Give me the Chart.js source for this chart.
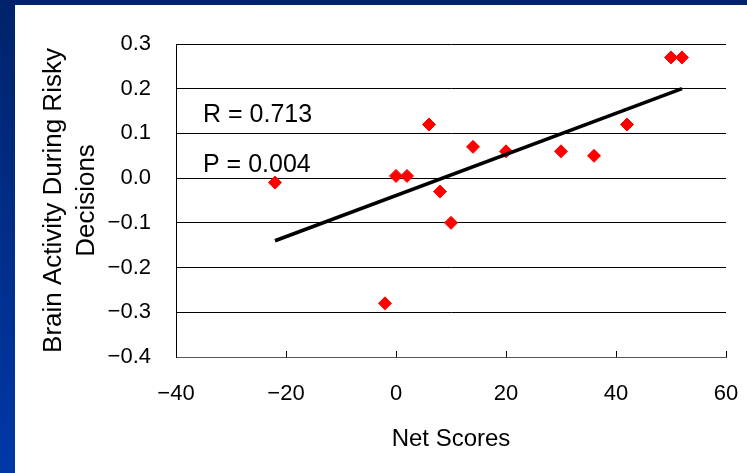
<!DOCTYPE html>
<html>
<head>
<meta charset="utf-8">
<script src="https://cdn.jsdelivr.net/npm/chart.js@4/dist/chart.umd.min.js"></script>
<style>
  html, body { margin: 0; padding: 0; }
  body {
    width: 747px; height: 473px; overflow: hidden;
    background: linear-gradient(to bottom, #00236a, #0038a8);
    position: relative;
  }
  #wrap { position: absolute; left: 15px; top: 5px; width: 732px; height: 468px; background: #fff; }
</style>
</head>
<body>
<div id="wrap"><canvas id="scatter" width="732" height="468"></canvas></div>
<script>
// values
const netScores = [-22, -2, 0, 2, 6, 8, 10, 14, 20, 30, 36, 42, 50, 52];
const brainActivity = [-0.01, -0.28, 0.005, 0.005, 0.12, -0.03, -0.10, 0.07, 0.06, 0.06, 0.05, 0.12, 0.27, 0.27];
const trendX = [-22, 52];
const trendY = [-0.14, 0.20];
const statLabels = ['R = 0.713', 'P = 0.004'];

const FONT = "'Liberation Sans', Arial, sans-serif";
const minus = s => s.replace('-', '\u2212');

// small tick marks pointing inward on the x axis + R/P text
const extras = {
  id: 'extras',
  afterDraw(chart) {
    const ctx = chart.ctx;
    const xs = chart.scales.x;
    const area = chart.chartArea;
    ctx.save();
    ctx.strokeStyle = '#000';
    ctx.lineWidth = 1;
    xs.ticks.forEach(t => {
      const px = Math.round(xs.getPixelForValue(t.value)) + 0.5;
      ctx.beginPath();
      ctx.moveTo(px, area.bottom);
      ctx.lineTo(px, area.bottom - 6);
      ctx.stroke();
    });
    ctx.fillStyle = '#000';
    ctx.font = '25px ' + FONT;
    ctx.textBaseline = 'alphabetic';
    ctx.fillText(statLabels[0], area.left + 27, area.top + 78);
    ctx.fillText(statLabels[1], area.left + 27, area.top + 128);
    ctx.restore();
  }
};

const points = netScores.map((x, i) => ({ x: x, y: brainActivity[i] }));
const trend = trendX.map((x, i) => ({ x: x, y: trendY[i] }));

new Chart(document.getElementById('scatter'), {
  type: 'scatter',
  data: {
    datasets: [
      {
        data: points,
        pointStyle: 'rectRot',
        pointRadius: 6.5,
        pointBorderWidth: 1,
        backgroundColor: '#ff0000',
        borderColor: '#ff0000',
        order: 2
      },
      {
        type: 'line',
        data: trend,
        borderColor: '#000',
        borderWidth: 3.5,
        pointRadius: 0,
        fill: false,
        order: 1
      }
    ]
  },
  options: {
    responsive: false,
    devicePixelRatio: 1,
    animation: false,
    layout: { padding: { left: 0, right: 21, top: 39, bottom: 0 } },
    plugins: { legend: { display: false }, tooltip: { enabled: false } },
    scales: {
      x: {
        type: 'linear',
        min: -40, max: 60,
        afterFit: s => { s.height = 116; },
        ticks: {
          stepSize: 20,
          padding: 0,
          color: '#000',
          font: { family: FONT, size: 22 },
          callback: v => minus(String(v))
        },
        // invisible tick length keeps the labels away from the axis
        grid: { display: true, drawOnChartArea: false, drawTicks: true, tickLength: 24, tickColor: 'rgba(0,0,0,0)' },
        border: { display: true, color: '#555', width: 1 },
        title: {
          display: true,
          text: 'Net Scores',
          color: '#000',
          font: { family: FONT, size: 24 },
          padding: { top: 0, bottom: 19 }
        }
      },
      y: {
        min: -0.4, max: 0.3,
        afterFit: s => { s.width = 161; },
        ticks: {
          stepSize: 0.1,
          padding: 0,
          color: '#000',
          font: { family: FONT, size: 22 },
          callback: v => {
            const r = Math.round(v * 10) / 10;
            return minus((Math.abs(r) < 1e-9 ? 0 : r).toFixed(1));
          }
        },
        grid: { color: '#000', lineWidth: 1, drawTicks: true, tickLength: 25, tickColor: 'rgba(0,0,0,0)' },
        border: { display: true, color: '#000', width: 1 },
        title: {
          display: true,
          text: ['Brain Activity During Risky', 'Decisions'],
          color: '#000',
          font: { family: FONT, size: 26, lineHeight: 1.24 },
          padding: { top: 23, bottom: 0 }
        }
      }
    }
  },
  plugins: [extras]
});
</script>
</body>
</html>
